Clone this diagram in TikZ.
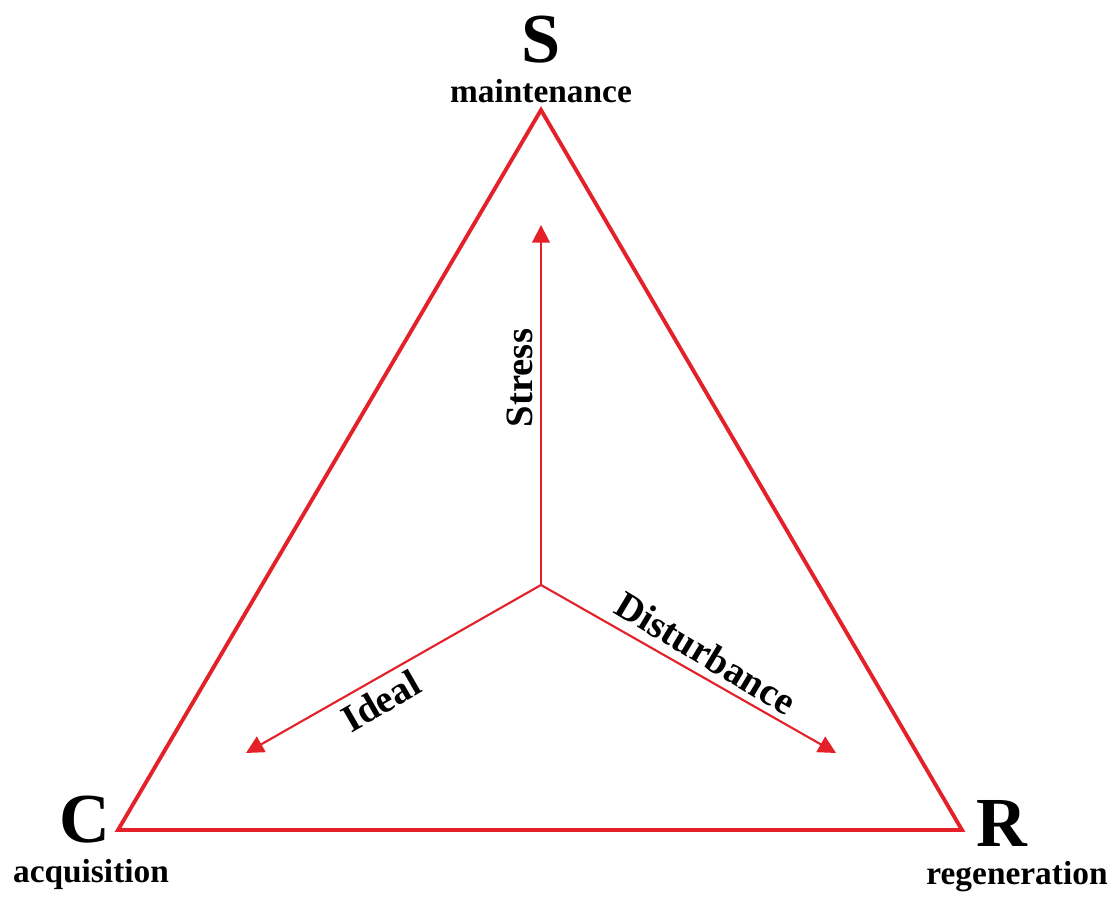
\documentclass[tikz,border=0pt]{standalone}
\usepackage{fontspec}
\setmainfont{Liberation Serif}
\usetikzlibrary{arrows.meta}
\definecolor{csrred}{RGB}{228,32,40}
\begin{document}
\begin{tikzpicture}[
    corner/.style={font=\fontsize{20}{24}\selectfont\bfseries, inner sep=0pt},
    strategy/.style={font=\fontsize{9.5}{11}\selectfont\bfseries, inner sep=0pt},
    axislabel/.style={font=\fontsize{11}{13}\selectfont\bfseries, inner sep=0pt},
    axis/.style={csrred, line width=0.6pt, -{Triangle[length=5pt,width=5pt]}}
]
                \useasboundingbox (0,0) rectangle (11.11,9.01);

                % Triangle
                \coordinate (stop) at (5.41,7.91);
                \coordinate (cvert) at (1.18,0.71);
                \coordinate (rvert) at (9.62,0.71);
                \coordinate (mid) at (5.41,3.16);
                \draw[csrred, line width=1.1pt] (stop) -- (cvert) -- (rvert) -- cycle;

                % Corners
                \node[corner] (s) at (5.41,8.61) {S};
                \node[strategy] (maint) at (5.41,8.10) {maintenance};
                \node[corner] (c) at (0.85,0.81) {C};
                \node[strategy] (acq) at (0.91,0.27) {acquisition};
                \node[corner] (r) at (10.02,0.78) {R};
                \node[strategy] (regen) at (10.17,0.24) {regeneration};

                % Axes
                \coordinate (stressend) at (5.41,6.76);
                \coordinate (idealend) at (2.46,1.48);
                \coordinate (distend) at (8.36,1.48);
                \draw[axis] (mid) -- (stressend);
                \draw[axis] (mid) -- (idealend);
                \draw[axis] (mid) -- (distend);
                \node[axislabel, rotate=90] (stress) at (5.20,5.23) {Stress};
                \node[axislabel, rotate=30] (ideal) at (3.81,2.00) {Ideal};
                \node[axislabel, rotate=-31] (dist) at (7.06,2.48) {Disturbance};
\end{tikzpicture}
\end{document}
